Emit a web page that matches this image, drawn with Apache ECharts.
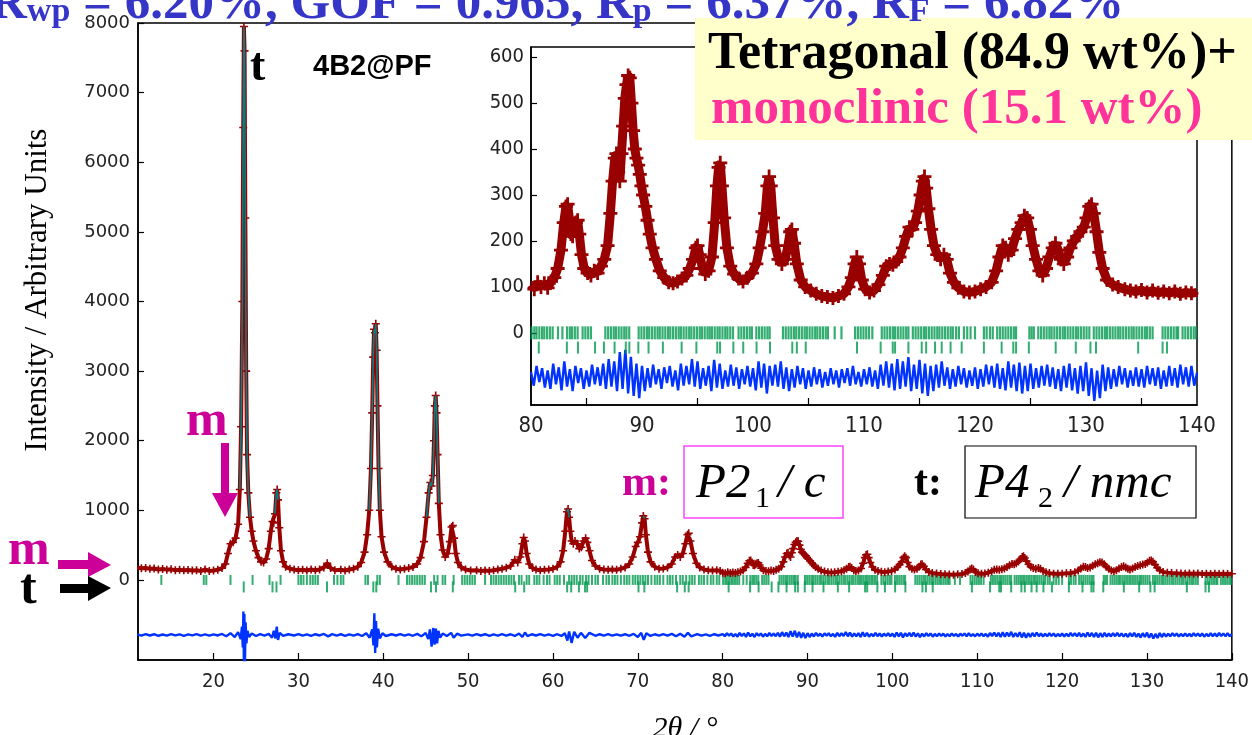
<!DOCTYPE html>
<html><head><meta charset="utf-8">
<script src="https://cdn.jsdelivr.net/npm/echarts@6/dist/echarts.min.js"></script>
<style>html,body{margin:0;padding:0;background:#fff;}#c{width:1252px;height:735px;}</style>
</head><body><div id="c"></div>
<script>
// ---------- DATA ----------
// observed intensity [2theta, counts]
const observed = [
[11,175],[11.5,168],[12,172],[12.5,160],[13,165],[13.5,150],[14,158],[14.5,148],[15,152],[15.5,140],[16,146],[16.5,138],[17,142],[17.5,135],[18,140],[18.5,128],[19,150],[19.5,130],[20,135],[20.5,145],[21,170],[21.4,230],[21.7,380],[22.0,520],[22.3,540],[22.6,600],[22.9,800],[23.1,1300],[23.25,2200],[23.4,4000],[23.5,6500],[23.58,7950],[23.66,7600],[23.75,5200],[23.85,3000],[23.95,1800],[24.1,1250],[24.3,900],[24.5,700],[24.7,560],[25.0,420],[25.3,320],[25.6,260],[25.9,250],[26.2,300],[26.5,450],[26.75,700],[26.95,840],[27.1,820],[27.25,950],[27.4,1250],[27.5,1300],[27.6,1150],[27.75,750],[27.95,420],[28.2,260],[28.5,190],[29,160],[29.5,150],[30,140],[30.5,145],[31,135],[31.5,150],[32,140],[32.5,150],[33.0,180],[33.4,240],[33.8,170],[34.3,140],[35,145],[35.5,135],[36,150],[36.5,160],[37,190],[37.4,250],[37.8,400],[38.1,650],[38.35,1000],[38.55,1600],[38.7,2400],[38.82,3200],[38.92,3600],[39.02,3550],[39.12,3680],[39.22,3300],[39.32,2500],[39.45,1600],[39.6,1000],[39.8,620],[40.1,400],[40.5,260],[41,190],[41.5,160],[42,150],[42.5,160],[43,170],[43.5,185],[44,230],[44.4,320],[44.8,550],[45.1,900],[45.35,1250],[45.55,1400],[45.7,1350],[45.85,1500],[45.98,2000],[46.08,2500],[46.18,2650],[46.28,2400],[46.4,1800],[46.55,1100],[46.75,650],[47.0,430],[47.3,330],[47.6,380],[47.85,550],[48.05,760],[48.2,780],[48.35,600],[48.55,380],[48.8,250],[49.2,180],[49.7,150],[50.3,135],[51,140],[51.5,130],[52,135],[52.5,130],[53,140],[53.5,150],[54,160],[54.5,175],[55.0,200],[55.5,290],[55.85,250],[56.15,330],[56.4,520],[56.55,610],[56.7,560],[56.9,380],[57.2,230],[57.6,170],[58,150],[58.5,140],[59,145],[59.5,150],[60,160],[60.5,190],[60.9,260],[61.2,420],[61.45,700],[61.65,980],[61.78,1020],[61.9,900],[62.05,700],[62.2,560],[62.4,520],[62.6,560],[62.85,520],[63.1,450],[63.35,470],[63.6,560],[63.85,600],[64.05,540],[64.3,420],[64.6,280],[65,200],[65.5,160],[66,150],[66.5,145],[67,150],[67.5,145],[68,160],[68.5,180],[69,230],[69.4,330],[69.75,480],[70.0,540],[70.25,620],[70.5,820],[70.65,920],[70.8,880],[70.95,650],[71.2,400],[71.5,260],[72,190],[72.5,160],[73,165],[73.5,180],[74,230],[74.4,330],[74.7,360],[75.0,330],[75.3,380],[75.6,520],[75.85,650],[76.0,670],[76.2,560],[76.5,380],[76.9,240],[77.3,180],[77.8,150],[78.3,140],[78.8,135],[79.3,140],[79.7,130],
[80.0,105],[80.3,95],[80.6,110],[80.9,100],[81.2,108],[81.5,98],[81.8,112],[82.1,120],[82.4,140],[82.7,180],[82.95,240],[83.15,275],[83.3,280],[83.45,250],[83.6,215],[83.75,210],[83.9,225],[84.05,240],[84.2,245],[84.35,215],[84.55,170],[84.8,140],[85.1,130],[85.4,125],[85.7,135],[86.0,130],[86.3,145],[86.6,160],[86.9,190],[87.15,260],[87.35,330],[87.55,380],[87.7,390],[87.85,350],[88.0,330],[88.15,390],[88.3,450],[88.45,510],[88.6,540],[88.75,560],[88.9,555],[89.05,500],[89.2,440],[89.35,400],[89.5,380],[89.65,365],[89.8,345],[89.95,320],[90.1,300],[90.3,275],[90.5,245],[90.7,215],[90.95,185],[91.25,160],[91.6,135],[92.0,120],[92.4,110],[92.8,108],[93.2,112],[93.6,118],[94.0,125],[94.3,140],[94.6,160],[94.85,185],[95.0,190],[95.2,170],[95.45,140],[95.7,128],[96.0,135],[96.3,165],[96.55,240],[96.75,320],[96.9,360],[97.05,370],[97.2,320],[97.4,250],[97.65,185],[97.95,145],[98.3,128],[98.7,118],[99.1,112],[99.5,120],[99.9,130],[100.3,150],[100.6,185],[100.85,220],[101.1,260],[101.3,320],[101.45,340],[101.6,320],[101.8,250],[102.0,190],[102.3,160],[102.6,150],[102.9,160],[103.15,190],[103.35,220],[103.5,225],[103.7,195],[103.95,150],[104.3,115],[104.7,100],[105.2,92],[105.7,85],[106.2,80],[106.7,78],[107.2,76],[107.7,80],[108.2,85],[108.6,100],[108.9,120],[109.15,150],[109.35,165],[109.55,150],[109.8,115],[110.1,95],[110.5,88],[110.9,92],[111.3,105],[111.7,125],[112.0,145],[112.3,150],[112.6,148],[112.9,155],[113.2,165],[113.5,185],[113.8,210],[114.1,230],[114.35,225],[114.6,240],[114.85,265],[115.1,300],[115.3,330],[115.45,340],[115.6,315],[115.8,270],[116.05,225],[116.3,190],[116.6,170],[116.9,160],[117.2,170],[117.45,160],[117.75,130],[118.1,110],[118.5,98],[119.0,90],[119.5,88],[120.0,90],[120.5,95],[121.0,100],[121.5,110],[121.9,135],[122.2,165],[122.5,190],[122.75,185],[123.0,170],[123.3,180],[123.6,205],[123.9,225],[124.2,240],[124.45,255],[124.7,250],[124.95,225],[125.2,190],[125.5,160],[125.8,135],[126.1,125],[126.4,140],[126.7,165],[127.0,185],[127.25,195],[127.5,180],[127.75,160],[128.0,150],[128.3,165],[128.6,185],[128.9,200],[129.2,210],[129.5,220],[129.8,230],[130.05,250],[130.3,275],[130.5,280],[130.7,260],[130.95,220],[131.2,175],[131.5,140],[131.9,115],[132.4,105],[132.9,100],[133.5,95],[134,92],[134.5,90],[135,93],[135.5,88],[136,92],[136.5,87],[137,90],[137.5,86],[138,90],[138.5,85],[139,88],[139.5,86],[140,88]
];
// difference (obs - calc), low-angle part [2theta, counts]
const diffLow = [
[11,8],[11.5,-10],[12,12],[12.5,-8],[13,10],[13.5,-12],[14,6],[14.5,-9],[15,11],[15.5,-7],[16,9],[16.5,-12],[17,8],[17.5,-6],[18,12],[18.5,-10],[19,7],[19.5,-11],[20,9],[20.5,-8],[21,14],[21.5,-18],[22,25],[22.5,-30],[22.9,40],[23.2,-60],[23.35,120],[23.45,-180],[23.52,335],[23.58,-450],[23.64,300],[23.7,-420],[23.78,180],[23.88,-120],[24.0,60],[24.2,-30],[24.5,20],[25,-15],[25.5,12],[26,-10],[26.5,15],[26.9,-40],[27.1,60],[27.3,-50],[27.45,120],[27.6,-72],[27.8,30],[28.2,-15],[28.8,10],[29.5,-8],[30,12],[30.5,-10],[31,8],[31.5,-12],[32,10],[32.5,-8],[33,14],[33.5,-20],[34,12],[34.5,-9],[35,10],[35.5,-12],[36,8],[36.5,-10],[37,12],[37.5,-15],[38,25],[38.4,-40],[38.7,80],[38.85,-150],[38.95,312],[39.05,-259],[39.15,200],[39.25,-180],[39.4,90],[39.6,-50],[39.9,25],[40.3,-15],[41,10],[41.5,-8],[42,12],[42.5,-10],[43,9],[43.5,-12],[44,15],[44.5,-20],[45,30],[45.3,-60],[45.5,80],[45.7,-168],[45.9,100],[46.05,-140],[46.2,90],[46.35,-120],[46.5,60],[46.7,-40],[47,20],[47.5,-15],[48,30],[48.3,-40],[48.7,18],[49.2,-10],[50,8],[50.5,-10],[51,12],[51.5,-8],[52,10],[52.5,-12],[53,9],[53.5,-10],[54,12],[54.5,-9],[55,10],[55.5,-15],[56,20],[56.4,-30],[56.7,35],[57,-18],[57.5,10],[58,-8],[58.5,12],[59,-10],[59.5,9],[60,-12],[60.5,10],[61,-15],[61.4,25],[61.7,-80],[61.9,50],[62.2,-115],[62.5,45],[62.9,-40],[63.3,30],[63.8,-45],[64.3,30],[65,-12],[65.5,10],[66,-9],[66.5,12],[67,-10],[67.5,9],[68,-11],[68.5,10],[69,-12],[69.5,15],[70,-30],[70.4,30],[70.7,-70],[71,25],[71.5,-15],[72,10],[72.5,-9],[73,12],[73.5,-10],[74,15],[74.5,-20],[75,18],[75.5,-25],[75.9,30],[76.3,-20],[77,12],[77.5,-10],[78,9],[78.5,-12],[79,10],[79.5,-8]
];
// difference, high-angle part: sampled every 0.25 deg from 80
const diffHighStart = 80, diffHighStep = 0.25;
const diffHigh = [
12,-18,25,-10,20,-22,15,-25,30,-15,22,-28,35,-20,18,-30,25,-12,20,-25,
15,-20,28,-15,22,-18,30,-25,40,-20,35,-30,55,-25,60,-35,45,-40,30,-45,
25,-30,20,-22,28,-15,18,-25,22,-12,25,-20,15,-28,30,-18,25,-15,40,-20,
35,-25,20,-18,25,-30,38,-22,30,-25,15,-20,28,-18,22,-25,18,-15,25,-20,
20,-28,35,-22,30,-35,25,-18,28,-20,35,-25,22,-30,18,-22,25,-15,20,-25,
15,-20,22,-15,18,-22,12,-18,20,-15,15,-22,18,-12,20,-18,25,-15,12,-20,
18,-15,22,-20,15,-25,28,-18,35,-22,30,-28,40,-25,35,-20,44,-30,28,-25,
38,-35,30,-40,25,-30,28,-22,35,-18,22,-25,18,-20,25,-15,20,-22,15,-18,
22,-25,18,-20,28,-15,25,-22,30,-25,20,-28,35,-22,28,-30,32,-35,25,-30,
30,-25,20,-22,25,-18,28,-20,22,-25,18,-30,25,-22,30,-28,20,-35,25,-30,
33,-40,20,-51,15,-45,28,-30,22,-25,18,-20,25,-15,20,-22,15,-18,22,-20,
18,-22,25,-15,20,-18,22,-25,15,-20,25,-18,20,-22,28,-15,22,-20,25,-18,
10
];
// reflection positions (2theta)
const reflTetragonal = [23.56,26.95,27.42,33.37,38.83,39.18,45.63,46.22,48.2,55.55,56.61,61.67,62.15,63.06,63.78,64.03,70.08,70.77,74.63,75.53,75.99,
80.70,83.23,84.23,85.77,86.57,87.53,88.54,88.86,89.67,90.59,91.88,93.57,94.90,96.78,97.03,98.23,99.12,100.32,101.53,103.54,103.95,104.75,109.37,111.5,112.59,112.8,114.0,115.2,115.6,116.4,117.0,117.8,118.8,120.8,122.4,123.45,123.7,124.85,127.27,129.08,130.4,130.9,134.7,136.9,137.3];
const reflMonoclinic = [13.85,18.85,19.15,22.0,24.6,26.6,27.9,30.0,30.3,30.6,31.0,31.4,31.7,32.0,32.3,34.2,34.6,35.0,35.3,37.9,38.2,39.3,39.6,41.8,42.8,43.1,43.4,43.7,44.0,44.3,44.6,44.9,46.0,46.4,47.0,47.3,48.3,49.3,49.6,49.9,50.2,50.5,50.8,52.0,52.7,53.0,53.3,53.6,53.9,54.2,54.5,54.8,55.1,55.4,
56.0,56.3,56.9,57.2,57.8,58.1,58.4,58.9,59.3,59.6,60.2,60.5,60.8,61.3,61.9,62.2,62.5,62.8,63.2,63.5,63.9,64.2,64.6,65.0,65.3,65.9,66.3,66.6,67.0,67.3,67.6,68.0,68.4,68.7,69.0,69.4,69.7,70.0,70.3,70.6,70.9,71.2,71.6,72.0,72.3,72.6,73.0,73.5,73.8,74.1,74.5,75.0,75.3,75.7,76.1,76.4,76.7,77.2,77.5,77.8,78.2,78.6,78.9,79.3,79.6,
80.05,80.3,80.5,80.75,81.0,81.2,81.45,81.7,81.95,82.43,82.83,83.25,83.5,83.7,83.95,84.2,84.65,84.9,85.15,85.4,86.7,86.95,87.2,87.45,87.65,87.9,88.15,88.4,88.6,88.85,89.7,89.95,90.2,90.45,90.65,
90.9,91.15,91.4,91.6,91.85,92.1,92.35,92.55,92.8,93.05,93.3,93.5,93.75,94.0,94.25,94.45,94.7,94.95,95.2,95.4,95.65,95.9,96.1,96.3,96.55,96.8,97.0,97.25,97.5,97.7,97.95,98.2,98.7,98.95,99.2,99.45,99.7,99.9,100.3,100.55,100.8,101.05,101.3,101.5,
102.7,102.95,103.2,103.45,103.7,103.9,104.15,104.4,104.65,104.85,105.1,105.35,105.6,105.8,106.05,106.3,106.55,106.75,107.36,107.97,109.2,109.45,109.7,109.95,110.2,110.45,110.75,
111.6,111.85,112.1,112.35,112.6,112.8,113.05,113.3,113.55,113.8,114.0,114.4,114.65,114.9,115.15,115.4,115.6,115.85,116.1,116.35,116.6,116.8,117.05,117.3,117.55,117.8,118.0,118.3,118.55,119.0,119.3,119.6,120.0,120.8,121.05,121.35,121.6,
122.0,122.25,122.5,122.75,123.0,123.25,123.5,123.7,124.9,125.1,125.3,125.7,125.95,126.2,126.45,126.7,126.9,127.15,127.4,127.65,127.9,128.1,128.35,128.6,128.85,129.1,129.3,129.55,129.8,130.05,130.3,
130.7,130.95,131.2,131.45,131.7,131.9,132.15,132.4,132.65,132.9,133.1,133.35,133.6,133.85,134.1,134.3,134.55,134.8,135.05,135.3,135.5,135.75,136.0,136.9,137.15,137.4,137.65,137.9,138.15,138.3,138.7,138.95,139.2,139.45,139.7,139.9];
// tick labels
const mainXTicks = [20,30,40,50,60,70,80,90,100,110,120,130,140];
const mainYTicks = [0,1000,2000,3000,4000,5000,6000,7000,8000];
const insetXTicks = [85,95,105,115,125,135];
const insetYTicks = [0,100,200,300,400,500,600];

// ---------- layout / style constants ----------
const MAIN_DIFF_OFFSET = -790, INSET_DIFF_OFFSET = -97;
const MAIN_ROW_M = 0, MAIN_ROW_T = -100, INSET_ROW_M = 0, INSET_ROW_T = -32;
const CALC_VISIBLE_ABOVE = 850; // where the calculated line shows through the observed crosses
const RED = '#990000', TEAL = '#008080', BLUE = '#0033ff', GREEN = '#00994d';
const CROSS = 'path://M4,0H6V4H10V6H6V10H4V6H0V4H4Z';
const SANS = "'Liberation Sans Narrow','DejaVu Sans Condensed','Liberation Sans',sans-serif";
const SERIF = "'Liberation Serif','DejaVu Serif',serif";

const diffHighPairs = diffHigh.map((v, i) => [diffHighStart + i * diffHighStep, v]);
const mainDiff = diffLow.concat(diffHighPairs).map(p => [p[0], p[1] + MAIN_DIFF_OFFSET]);
const insetDiff = diffHighPairs.map(p => [p[0], p[1] + INSET_DIFF_OFFSET]);
const insetObsRaw = observed.filter(p => p[0] >= 80 && p[0] <= 140);
const insetObs = insetObsRaw.map((p, i, a) => (i === 0 || i === a.length - 1) ? {value: p, symbol: 'none'} : p);
const calcShown = observed.map(p => p[1] >= CALC_VISIBLE_ABOVE ? p : [p[0], '-']);

const chart = echarts.init(document.getElementById('c'), null, {renderer: 'canvas'});

const ctx = document.createElement('canvas').getContext('2d');
function tw(t, f) { ctx.font = f; return ctx.measureText(t).width; }
function T(x, y, text, font, fill, align, z, extra) {
  return Object.assign({type: 'text', x: x, y: y, z: z || 60,
    style: {text: text, font: font, fill: fill, textAlign: align || 'left', textVerticalAlign: 'middle', verticalAlign: 'middle'}}, extra || {});
}

const graphics = [];
// title (cut at top)
const BIG = 'bold 51px ' + SERIF, SUB = 'bold 34px ' + SERIF, TITLE_C = '#3535c8';
let tx = -10;
[['R', BIG, 5], ['wp', SUB, 12], [' = 6.20%, GOF = 0.965, R', BIG, 5], ['p', SUB, 12], [' = 6.37%, R', BIG, 5], ['F', SUB, 12], [' = 6.82%', BIG, 5]].forEach(p => {
  graphics.push(T(tx, p[2], p[0], p[1], TITLE_C));
  tx += tw(p[0], p[1]);
});
// phase box
graphics.push({type: 'rect', z: 55, shape: {x: 695, y: 18, width: 560, height: 122}, style: {fill: '#ffffcc'}});
graphics.push(T(708, 55, 'Tetragonal (84.9 wt%)+', 'bold 52px ' + SERIF, '#000'));
graphics.push(T(711, 110, 'monoclinic (15.1 wt%)', 'bold 51px ' + SERIF, '#ff3399'));
// labels in main plot
graphics.push(T(250, 68, 't', 'bold 46px ' + SERIF, '#000'));
graphics.push(T(313, 67, '4B2@PF', 'bold 29px "Liberation Sans",sans-serif', '#000'));
graphics.push(T(186, 422, 'm', 'bold 50px ' + SERIF, '#cc0099'));
graphics.push({type: 'polygon', z: 60, shape: {points: [[221, 443], [229, 443], [229, 493], [238, 493], [225, 517], [212, 493], [221, 493]]}, style: {fill: '#cc0099'}});
graphics.push(T(8, 551, 'm', 'bold 50px ' + SERIF, '#cc0099'));
graphics.push({type: 'polygon', z: 60, shape: {points: [[58, 560], [88, 560], [88, 552], [111, 565], [88, 577], [88, 569], [58, 569]]}, style: {fill: '#cc0099'}});
graphics.push(T(20, 590, 't', 'bold 50px ' + SERIF, '#000'));
graphics.push({type: 'polygon', z: 60, shape: {points: [[60, 584], [88, 584], [88, 576], [111, 588], [88, 601], [88, 593], [60, 593]]}, style: {fill: '#000'}});
// space groups
graphics.push(T(622, 484, 'm:', 'bold 42px ' + SERIF, '#cc0099'));
graphics.push({type: 'rect', z: 60, shape: {x: 684, y: 446, width: 159, height: 72}, style: {fill: 'none', stroke: '#ff44ff', lineWidth: 1.5}});
graphics.push(T(696, 484, 'P2', 'italic 49px ' + SERIF, '#000'));
graphics.push(T(755, 499, '1', '30px ' + SERIF, '#000'));
graphics.push(T(778, 484, '/ c', 'italic 49px ' + SERIF, '#000'));
graphics.push(T(914, 484, 't:', 'bold 42px ' + SERIF, '#000'));
graphics.push({type: 'rect', z: 60, shape: {x: 965, y: 446, width: 231, height: 72}, style: {fill: 'none', stroke: '#000', lineWidth: 1.2}});
graphics.push(T(975, 484, 'P4', 'italic 49px ' + SERIF, '#000'));
graphics.push(T(1038, 499, '2', '30px ' + SERIF, '#000'));
graphics.push(T(1064, 484, '/ nmc', 'italic 49px ' + SERIF, '#000'));
// axis titles
graphics.push(T(38, 290, 'Intensity / Arbitrary Units', '31px ' + SERIF, '#000', 'center', 60, {rotation: Math.PI / 2}));
graphics.push(T(685, 729, '2θ / °', 'italic 30px ' + SERIF, '#000', 'center'));

const axisLine = {show: true, onZero: false, lineStyle: {color: '#000', width: 1.5}};
const plain = v => String(v);
const option = {
  animation: false,
  backgroundColor: '#fff',
  grid: [
    {left: 138, top: 23, width: 1094, height: 637, show: true, borderColor: '#000', borderWidth: 1.5, backgroundColor: 'transparent'},
    {left: 531, top: 47, width: 666, height: 358, show: true, borderColor: '#000', borderWidth: 1.5, backgroundColor: '#fff'}
  ],
  xAxis: [
    {type: 'value', gridIndex: 0, min: 11.1, max: 140, axisLine: axisLine, splitLine: {show: false},
      axisTick: {show: true, inside: true, length: 7, customValues: mainXTicks, lineStyle: {color: '#000', width: 1.2}},
      axisLabel: {customValues: mainXTicks, formatter: plain, color: '#222', fontSize: 20, fontFamily: SANS, margin: 12}},
    {type: 'value', gridIndex: 1, min: 80, max: 140, interval: 10, axisLine: axisLine, splitLine: {show: false},
      axisTick: {show: true, inside: true, length: 7, customValues: insetXTicks, lineStyle: {color: '#000', width: 1.2}},
      axisLabel: {formatter: plain, color: '#222', fontSize: 22, fontFamily: SANS, margin: 10, showMinLabel: true, showMaxLabel: true}}
  ],
  yAxis: [
    {type: 'value', gridIndex: 0, min: -1150, max: 8000, axisLine: axisLine, splitLine: {show: false},
      axisTick: {show: true, inside: true, length: 6, customValues: mainYTicks, lineStyle: {color: '#000', width: 1.2}},
      axisLabel: {customValues: mainYTicks, formatter: plain, color: '#222', fontSize: 18, fontFamily: "'DejaVu Sans',sans-serif", margin: 8}},
    {type: 'value', gridIndex: 1, min: -157, max: 622, axisLine: axisLine, splitLine: {show: false},
      axisTick: {show: true, inside: true, length: 6, customValues: insetYTicks, lineStyle: {color: '#000', width: 1.2}},
      axisLabel: {customValues: insetYTicks, formatter: plain, color: '#222', fontSize: 20, fontFamily: SANS, margin: 7}}
  ],
  series: [
    {type: 'line', xAxisIndex: 0, yAxisIndex: 0, data: observed, z: 3, silent: true,
      lineStyle: {color: RED, width: 4}, itemStyle: {color: RED}, symbol: CROSS, symbolSize: 8, showSymbol: true, showAllSymbol: true},
    {type: 'line', xAxisIndex: 0, yAxisIndex: 0, data: calcShown, z: 4, silent: true, symbol: 'none', connectNulls: false,
      lineStyle: {color: TEAL, width: 1.6}},
    {type: 'line', xAxisIndex: 0, yAxisIndex: 0, data: mainDiff, z: 3, silent: true, symbol: 'none', lineStyle: {color: BLUE, width: 2.4}},
    {type: 'scatter', xAxisIndex: 0, yAxisIndex: 0, data: reflMonoclinic.map(x => [x, MAIN_ROW_M]), z: 2, silent: true,
      symbol: 'rect', symbolSize: [2, 10], itemStyle: {color: GREEN}},
    {type: 'scatter', xAxisIndex: 0, yAxisIndex: 0, data: reflTetragonal.map(x => [x, MAIN_ROW_T]), z: 2, silent: true,
      symbol: 'rect', symbolSize: [2, 11], itemStyle: {color: GREEN}},
    {type: 'line', xAxisIndex: 1, yAxisIndex: 1, data: insetObs, z: 5, silent: true, clip: true,
      lineStyle: {color: RED, width: 9}, itemStyle: {color: RED}, symbol: CROSS, symbolSize: 14, showSymbol: true, showAllSymbol: true},
    {type: 'line', xAxisIndex: 1, yAxisIndex: 1, data: insetDiff, z: 5, silent: true, clip: true, symbol: 'none', lineStyle: {color: BLUE, width: 2.4}},
    {type: 'scatter', xAxisIndex: 1, yAxisIndex: 1, data: reflMonoclinic.filter(x => x >= 80).map(x => [x, INSET_ROW_M]), z: 5, silent: true,
      symbol: 'rect', symbolSize: [2.2, 13], itemStyle: {color: GREEN}},
    {type: 'scatter', xAxisIndex: 1, yAxisIndex: 1, data: reflTetragonal.filter(x => x >= 80).map(x => [x, INSET_ROW_T]), z: 5, silent: true,
      symbol: 'rect', symbolSize: [2, 12], itemStyle: {color: GREEN}}
  ],
  graphic: {elements: graphics}
};
chart.setOption(option);
</script></body></html>
